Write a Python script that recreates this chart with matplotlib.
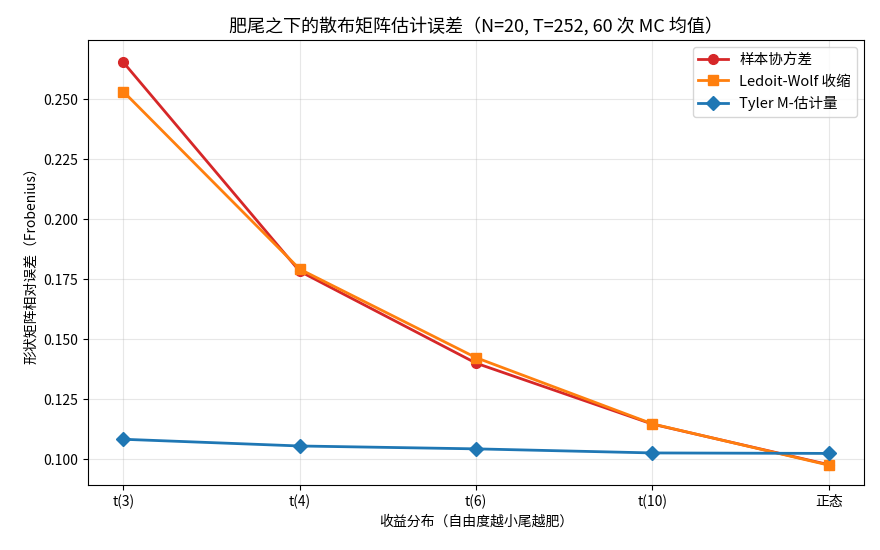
import numpy as np
import matplotlib.pyplot as plt

plt.rcParams['font.family'] = ['Noto Sans CJK SC', 'DejaVu Sans']

# 数据
dists = ['t(3)', 't(4)', 't(6)', 't(10)', '正态']
sample_cov = [0.2654, 0.1783, 0.1400, 0.1146, 0.0977]
ledoit_wolf = [0.2532, 0.1792, 0.1423, 0.1147, 0.0975]
tyler = [0.1083, 0.1055, 0.1043, 0.1026, 0.1024]

x = np.arange(len(dists))

fig, ax = plt.subplots(figsize=(8.8, 5.5), dpi=100)
ax.plot(x, sample_cov, color='#d62728', marker='o', lw=2, ms=7, label='样本协方差')
ax.plot(x, ledoit_wolf, color='#ff7f0e', marker='s', lw=2, ms=7, label='Ledoit-Wolf 收缩')
ax.plot(x, tyler, color='#1f77b4', marker='D', lw=2, ms=7, label='Tyler M-估计量')

ax.set_xticks(x)
ax.set_xticklabels(dists)
ax.set_ylim(0.0892, 0.2746)
ax.set_xlabel('收益分布（自由度越小尾越肥）')
ax.set_ylabel('形状矩阵相对误差（Frobenius）')
ax.set_title('肥尾之下的散布矩阵估计误差（N=20, T=252, 60 次 MC 均值）', fontsize=13)
ax.grid(True, alpha=0.3)
ax.legend(loc='upper right', fontsize=10.5)

fig.subplots_adjust(left=0.1, right=0.982, top=0.927, bottom=0.118)
fig.savefig('out.png')
